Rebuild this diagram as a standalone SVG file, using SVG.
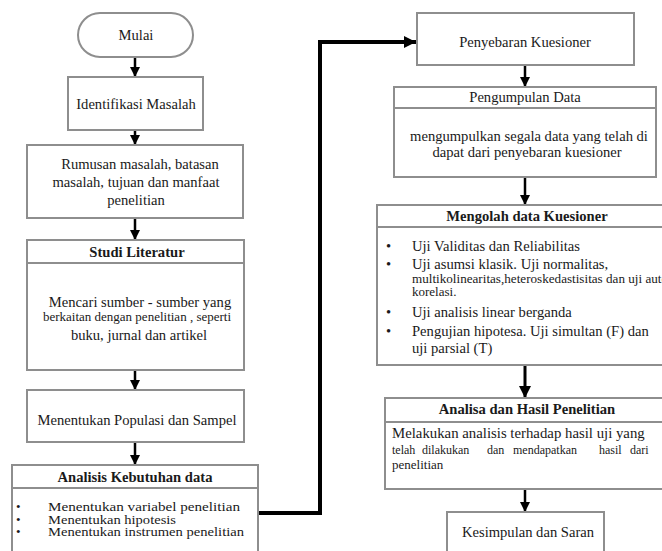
<svg xmlns="http://www.w3.org/2000/svg" width="662" height="551" viewBox="0 0 662 551">
<style>
.box{fill:#fff;stroke:#8e8e8e;stroke-width:2}
.div{stroke:#8e8e8e;stroke-width:2;fill:none}
.t{font-size:14.6px;fill:#1a1a1a}
.c{text-anchor:middle}
.b{font-weight:bold}
.s{font-size:13px}
.xs{font-size:12px}
.li{font-size:13px}
.arr{stroke:#000;stroke-width:2.5;fill:none;marker-end:url(#ah)}
.conn{stroke:#000;stroke-width:4;fill:none;marker-end:url(#ah2)}
</style>
<defs>
<marker id="ah" viewBox="0 0 10 10" refX="10" refY="5" markerWidth="4" markerHeight="4" orient="auto" markerUnits="strokeWidth">
<path d="M0,0 L10,5 L0,10 z" fill="#000"/>
</marker>
<marker id="ah2" viewBox="0 0 10 10" refX="10" refY="5" markerWidth="3" markerHeight="3" orient="auto" markerUnits="strokeWidth">
<path d="M0,0 L10,5 L0,10 z" fill="#000"/>
</marker>
</defs>
<rect width="662" height="551" fill="#fff"/>

<g id="connectors">
<line class="arr" x1="135" y1="57" x2="135" y2="77"/>
<line class="arr" x1="135" y1="130" x2="135" y2="145"/>
<line class="arr" x1="135" y1="218" x2="135" y2="240"/>
<line class="arr" x1="135" y1="370" x2="135" y2="390"/>
<line class="arr" x1="135" y1="442" x2="135" y2="465"/>
<path class="conn" d="M258,513 H320 V42 H416"/>
<line class="arr" x1="525" y1="65" x2="525" y2="87"/>
<line class="arr" x1="525" y1="177" x2="525" y2="205"/>
<line class="arr" x1="525" y1="365" x2="525" y2="398" style="stroke-width:3"/>
<line class="arr" x1="525" y1="489" x2="525" y2="512"/>
</g>

<g font-family="'Liberation Serif', 'DejaVu Serif', serif">
<g id="mulai">
<rect class="box" x="78" y="13" width="115" height="44" rx="22"/>
<text class="t c" x="136" y="40">Mulai</text>
</g>

<g id="identifikasi">
<rect class="box" x="68" y="77" width="135" height="53"/>
<text class="t c" x="136" y="109">Identifikasi Masalah</text>
</g>

<g id="rumusan">
<rect class="box" x="27" y="145" width="216" height="73"/>
<text class="t c" x="140" y="169">Rumusan masalah, batasan</text>
<text class="t c" x="136" y="187">masalah, tujuan dan manfaat</text>
<text class="t c" x="136" y="205">penelitian</text>
</g>

<g id="studi">
<rect class="box" x="27" y="240" width="217" height="130"/>
<line class="div" x1="27" y1="263" x2="244" y2="263"/>
<text class="t c b" x="137" y="257">Studi Literatur</text>
<text class="t c" x="140" y="307">Mencari sumber - sumber yang</text>
<text class="t c s" x="137" y="321">berkaitan dengan penelitian , seperti</text>
<text class="t c" x="139" y="340">buku, jurnal dan artikel</text>
</g>

<g id="populasi">
<rect class="box" x="27" y="390" width="217" height="52"/>
<text class="t c" x="137" y="425">Menentukan Populasi dan Sampel</text>
</g>

<g id="analisis">
<rect class="box" x="12" y="465" width="246" height="100"/>
<line class="div" x1="12" y1="488" x2="258" y2="488"/>
<text class="t c b" x="135" y="482">Analisis Kebutuhan data</text>
<text class="t li" x="16" y="511">•</text>
<text class="t li" x="48" y="511" textLength="192" lengthAdjust="spacingAndGlyphs">Menentukan variabel penelitian</text>
<text class="t li" x="16" y="523.5">•</text>
<text class="t li" x="48" y="523.5" textLength="128" lengthAdjust="spacingAndGlyphs">Menentukan hipotesis</text>
<text class="t li" x="16" y="536">•</text>
<text class="t li" x="48" y="536" textLength="196" lengthAdjust="spacingAndGlyphs">Menentukan instrumen penelitian</text>
</g>

<g id="penyebaran">
<rect class="box" x="417" y="13" width="217" height="52"/>
<text class="t c" x="525" y="47">Penyebaran Kuesioner</text>
</g>

<g id="pengumpulan">
<rect class="box" x="394" y="87" width="262" height="90"/>
<line class="div" x1="394" y1="108" x2="656" y2="108"/>
<text class="t c" x="525" y="102">Pengumpulan Data</text>
<text class="t c" x="529" y="141">mengumpulkan segala data yang telah di</text>
<text class="t c" x="527" y="157">dapat dari penyebaran kuesioner</text>
</g>

<g id="mengolah">
<rect class="box" x="377" y="205" width="292" height="160"/>
<line class="div" x1="377" y1="227" x2="669" y2="227"/>
<text class="t c b" x="527" y="221">Mengolah data Kuesioner</text>
<text class="t" x="386" y="251">•</text>
<text class="t" x="412" y="251">Uji Validitas dan Reliabilitas</text>
<text class="t" x="386" y="269">•</text>
<text class="t" x="412" y="269">Uji asumsi klasik. Uji normalitas,</text>
<text class="t xs" x="412" y="283" textLength="256" lengthAdjust="spacingAndGlyphs">multikolinearitas,heteroskedastisitas dan uji auto</text>
<text class="t s" x="412" y="296">korelasi.</text>
<text class="t" x="386" y="317">•</text>
<text class="t" x="412" y="317">Uji analisis linear berganda</text>
<text class="t" x="386" y="336">•</text>
<text class="t" x="412" y="336">Pengujian hipotesa. Uji simultan (F) dan</text>
<text class="t" x="412" y="353">uji parsial (T)</text>
</g>

<g id="analisa">
<rect class="box" x="385" y="398" width="282" height="91"/>
<line class="div" x1="385" y1="422" x2="667" y2="422"/>
<text class="t c b" x="527" y="414">Analisa dan Hasil Penelitian</text>
<text class="t" x="392" y="438" style="font-size:14.8px">Melakukan analisis terhadap hasil uji yang</text>
<text class="t xs" y="454"><tspan x="392">telah</tspan><tspan x="422">dilakukan</tspan><tspan x="487">dan</tspan><tspan x="513">mendapatkan</tspan><tspan x="599">hasil</tspan><tspan x="630">dari</tspan></text>
<text class="t s" x="392" y="469">penelitian</text>
</g>

<g id="kesimpulan">
<rect class="box" x="447" y="512" width="157" height="60"/>
<text class="t c" x="528" y="537">Kesimpulan dan Saran</text>
</g>
</g>
</svg>
